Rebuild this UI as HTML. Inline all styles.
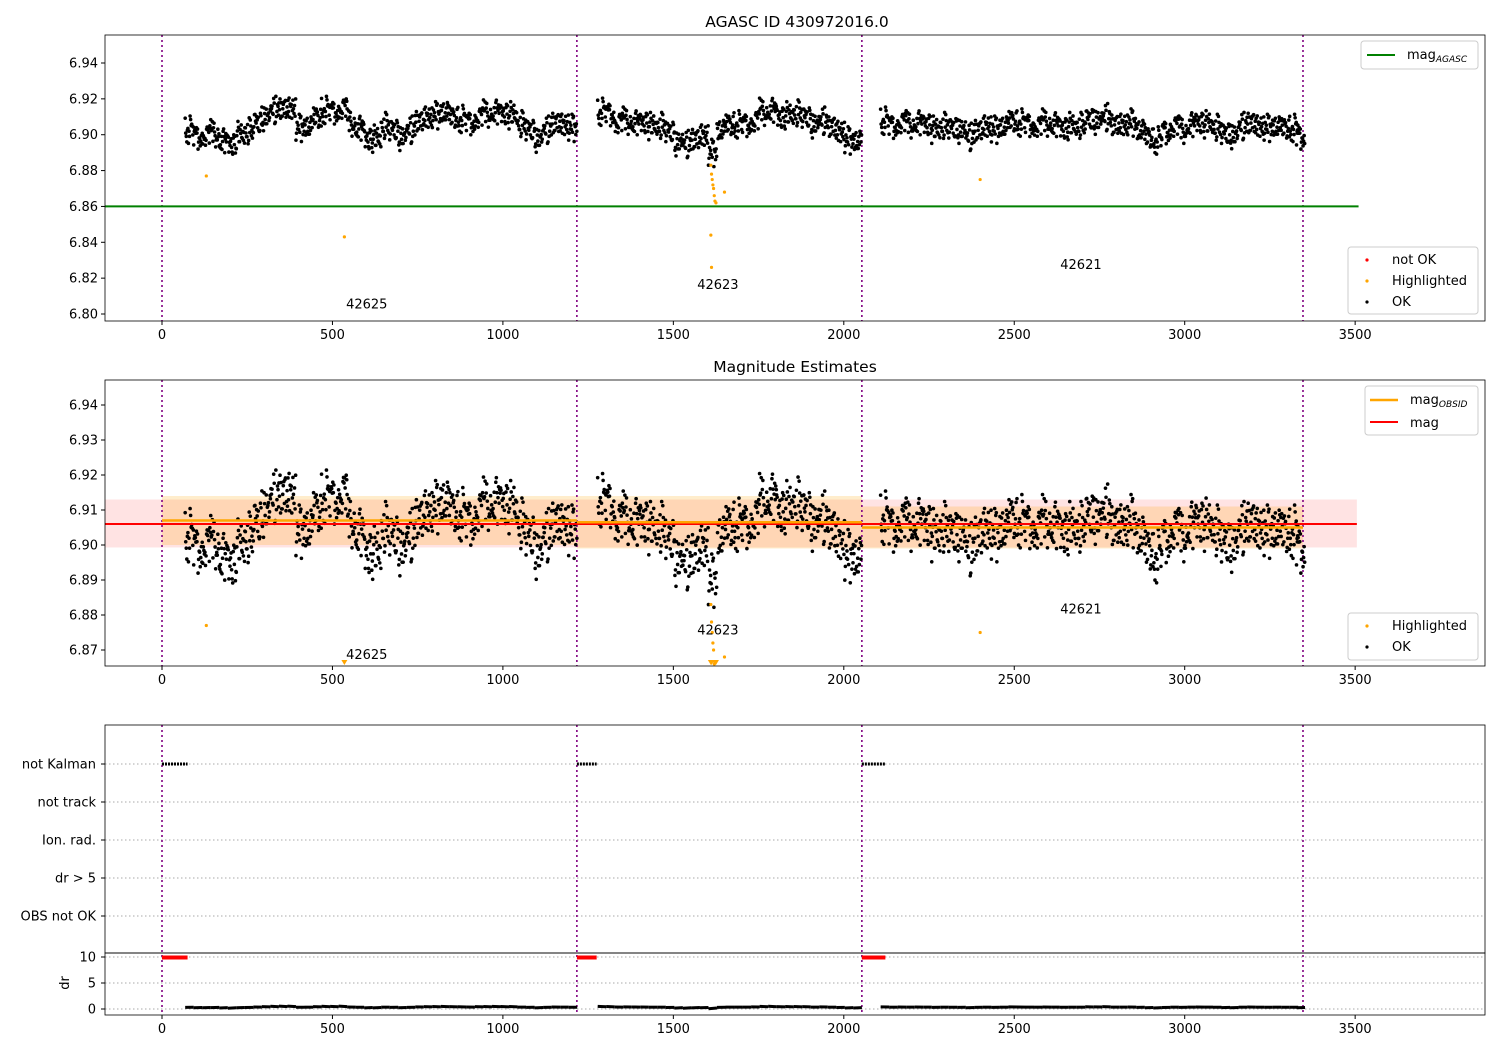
<!DOCTYPE html>
<html><head><meta charset="utf-8"><style>
body{margin:0;background:#fff}
svg{display:block;font-family:"DejaVu Sans","Liberation Sans",sans-serif}
</style></head><body>
<svg id="c" width="1500" height="1050" xmlns="http://www.w3.org/2000/svg"></svg>
<script>
// ---- data ----
const binTimes1=[80,105,130,155,180,205,230,255,280,305,330,355,380,405,430,455,480,505,530,555,580,605,630,655,680,705,730,755,780,805,830,855,880,905,930,955,980,1005,1030,1055,1080,1105,1130,1155,1180,1205];
const binMags1=[6.903,6.899,6.900,6.901,6.897,6.895,6.900,6.902,6.907,6.910,6.914,6.915,6.915,6.904,6.905,6.910,6.914,6.913,6.915,6.907,6.904,6.898,6.898,6.905,6.903,6.899,6.903,6.908,6.910,6.911,6.913,6.910,6.909,6.907,6.910,6.912,6.913,6.912,6.911,6.906,6.903,6.898,6.903,6.907,6.906,6.904];
const binTimes2=[1290,1315,1340,1365,1390,1415,1440,1465,1490,1515,1540,1565,1590,1615,1640,1665,1690,1715,1740,1765,1790,1815,1840,1865,1890,1915,1940,1965,1990,2015,2040];
const binMags2=[6.913,6.912,6.907,6.908,6.907,6.907,6.905,6.905,6.902,6.896,6.895,6.898,6.900,6.890,6.903,6.906,6.906,6.906,6.908,6.913,6.914,6.910,6.911,6.912,6.910,6.906,6.908,6.905,6.902,6.897,6.897];
const binTimes3=[2120,2145,2170,2195,2220,2245,2270,2295,2320,2345,2370,2395,2420,2445,2470,2495,2520,2545,2570,2595,2620,2645,2670,2695,2720,2745,2770,2795,2820,2845,2870,2895,2920,2945,2970,2995,3020,3045,3070,3095,3120,3145,3170,3195,3220,3245,3270,3295,3320,3340];
const binMags3=[6.908,6.905,6.907,6.906,6.907,6.906,6.903,6.905,6.904,6.903,6.899,6.903,6.905,6.903,6.905,6.908,6.907,6.906,6.905,6.907,6.906,6.904,6.905,6.905,6.909,6.908,6.910,6.906,6.906,6.907,6.903,6.899,6.897,6.902,6.905,6.903,6.906,6.907,6.906,6.904,6.901,6.900,6.905,6.907,6.905,6.904,6.905,6.904,6.904,6.899];
const magSpread=0.0065;
const hlTimes=[130,535,1610,1612,1614,1616,1618,1620,1622,1625,1610,1612,1650,2400];
const hlMags=[6.877,6.843,6.883,6.878,6.875,6.872,6.870,6.866,6.863,6.862,6.844,6.826,6.868,6.875];
const obsStarts=[0,1217,2053];
const obsEnds=[1217,2053,3347];
const obsMags=[6.907,6.9065,6.905];
const obsLo=[6.900,6.899,6.899];
const obsHi=[6.914,6.914,6.911];
const obsIds=["42625","42623","42621"];
const labelMagsTop=[6.803,6.814,6.825];
const labelMagsMid=[6.8675,6.8745,6.8805];
const labelTimes=[540,1570,2635];
const magAgasc=6.86, magMean=6.906, magLo=6.8993, magHi=6.9130;
const kalStart=[0,1217,2053], kalEnd=[75,1275,2122];
const drTypical=0.35, drBad=9.9;
const topTicks=[6.80,6.82,6.84,6.86,6.88,6.90,6.92,6.94];
const midTicks=[6.87,6.88,6.89,6.90,6.91,6.92,6.93,6.94];
const xTicks=[0,500,1000,1500,2000,2500,3000,3500];
const flagRows=["not Kalman","not track","Ion. rad.","dr > 5","OBS not OK"];
const drTicks=[0,5,10];

// ---- helpers ----
const S=document.getElementById('c'),NS='http://www.w3.org/2000/svg';
function mk(t,a,p){const e=document.createElementNS(NS,t);for(const k in a)e.setAttribute(k,a[k]);(p||S).appendChild(e);return e;}
const X=t=>162+(t)*0.3409;
const L=105,R=1485;
const Ytop=m=>63+(6.94-m)*1792.9;
const Ymid=m=>405+(6.94-m)*3500;
const Yflag=i=>764+i*38;
const Ydr=d=>1009-d*5.2;
const pat=[-0.9,0.4,-0.2,0.8,-0.6,0.1,0.95,-0.4,0.55,-1,0.25,-0.75,0.7,-0.1,0.35,-0.5];
const xpat=[3,11,7,0,14,5,9,1,12,6,15,2,10,4,13,8];
const segs=[[binTimes1,binMags1],[binTimes2,binMags2],[binTimes3,binMags3]];

function frame(top,bot,name){
  mk('rect',{x:L,y:top,width:R-L,height:bot-top,fill:'none',stroke:'#000','stroke-width':0.8,});
}
function xAxis(bot,name){
  const g=mk('g',{});
  xTicks.forEach(t=>{mk('line',{x1:X(t),x2:X(t),y1:bot,y2:bot+4,stroke:'#000'},g);
    const tx=mk('text',{x:X(t),y:bot+18,'font-size':13,'text-anchor':'middle'},g);tx.textContent=t;});
}
function yAxis(ticks,Y,name,fmt){
  const g=mk('g',{});
  ticks.forEach(v=>{mk('line',{x1:L-4,x2:L,y1:Y(v),y2:Y(v),stroke:'#000'},g);
    const tx=mk('text',{x:L-7,y:Y(v)+4.5,'font-size':13,'text-anchor':'end'},g);tx.textContent=fmt(v);});
}
function vlines(top,bot){
  [0,1217,2053,3347].forEach(t=>{const l=mk('line',{x1:X(t),x2:X(t),y1:top,y2:bot,stroke:'#800080','stroke-width':1.6,'stroke-dasharray':'2,3'});
  });
}
function scatter(Y,top,bot,g){
  segs.forEach(([ts,ms])=>{ts.forEach((t,i)=>{for(let k=0;k<16;k++){
    const y=Y(ms[i]+pat[(k+i)%16]*magSpread*(k%3==0?1.2:0.8));if(y<top||y>bot)continue;
    mk('circle',{cx:X(t-12+xpat[k]*1.6),cy:y,r:1.8,fill:'#000'},g);}});});
}
function highlights(Y,top,bot,g){
  hlTimes.forEach((t,i)=>{const y=Y(hlMags[i]);
    if(y>bot){mk('path',{d:`M${X(t)-3},${bot-5} h6 l-3,5z`,fill:'orange'},g);}
    else mk('circle',{cx:X(t),cy:y,r:1.6,fill:'orange'},g);});
}
function label(x,y,s,name,size){const t=mk('text',{x:x,y:y,'font-size':size||13,});t.textContent=s;return t;}

// ---- top panel ----
label(797,27,'AGASC ID 430972016.0','top-title',15.5).setAttribute('text-anchor','middle');
vlines(35,321);
mk('line',{x1:L,x2:X(3510),y1:Ytop(magAgasc),y2:Ytop(magAgasc),stroke:'green','stroke-width':2,});
const g1=mk('g',{});scatter(Ytop,36,320,g1);
const h1=mk('g',{});highlights(Ytop,36,320,h1);
obsIds.forEach((s,i)=>label(X(labelTimes[i]),Ytop(labelMagsTop[i]),s,'obsid-label-top'));
frame(35,321,'top-plot-area');xAxis(321,'top-x-axis');yAxis(topTicks,Ytop,'top-y-axis',v=>v.toFixed(2));
// legends
let lg=mk('g',{});
mk('rect',{x:1361,y:41,width:117,height:28,rx:3,fill:'#fff',stroke:'#ccc'},lg);
mk('line',{x1:1367,x2:1395,y1:55,y2:55,stroke:'green','stroke-width':2},lg);
let t=mk('text',{x:1407,y:59,'font-size':13},lg);t.innerHTML='mag<tspan font-size="9" font-style="italic" dy="3">AGASC</tspan>';
lg=mk('g',{});
mk('rect',{x:1348,y:247,width:130,height:67,rx:3,fill:'#fff',stroke:'#ccc'},lg);
[['not OK','red'],['Highlighted','orange'],['OK','#000']].forEach((e,i)=>{mk('circle',{cx:1367,cy:260+i*21,r:1.6,fill:e[1]},lg);
  const q=mk('text',{x:1392,y:264+i*21,'font-size':13},lg);q.textContent=e[0];});

// ---- middle panel ----
label(795,372,'Magnitude Estimates','mid-title',15.5).setAttribute('text-anchor','middle');
mk('rect',{x:L,y:Ymid(magHi),width:X(3505)-L,height:Ymid(magLo)-Ymid(magHi),fill:'rgba(255,0,0,0.11)',});
obsStarts.forEach((s,i)=>{mk('rect',{x:X(s),y:Ymid(obsHi[i]),width:X(obsEnds[i])-X(s),height:Ymid(obsLo[i])-Ymid(obsHi[i]),fill:'rgba(255,165,0,0.2)',});});
vlines(380,666);
const g2=mk('g',{});scatter(Ymid,381,665,g2);
mk('line',{x1:L,x2:X(3505),y1:Ymid(magMean),y2:Ymid(magMean),stroke:'red','stroke-width':2,});
obsStarts.forEach((s,i)=>{mk('line',{x1:X(s),x2:X(obsEnds[i]),y1:Ymid(obsMags[i]),y2:Ymid(obsMags[i]),stroke:'orange','stroke-width':2.5,});});
const h2=mk('g',{});highlights(Ymid,381,665,h2);
obsIds.forEach((s,i)=>label(X(labelTimes[i]),Ymid(labelMagsMid[i]),s,'obsid-label-mid'));
frame(380,666,'mid-plot-area');xAxis(666,'mid-x-axis');yAxis(midTicks,Ymid,'mid-y-axis',v=>v.toFixed(2));
lg=mk('g',{});
mk('rect',{x:1365,y:386,width:113,height:49,rx:3,fill:'#fff',stroke:'#ccc'},lg);
mk('line',{x1:1370,x2:1398,y1:400,y2:400,stroke:'orange','stroke-width':2.5},lg);
t=mk('text',{x:1410,y:404,'font-size':13},lg);t.innerHTML='mag<tspan font-size="9" font-style="italic" dy="3">OBSID</tspan>';
mk('line',{x1:1370,x2:1398,y1:422,y2:422,stroke:'red','stroke-width':2},lg);
t=mk('text',{x:1410,y:427,'font-size':13},lg);t.textContent='mag';
lg=mk('g',{});
mk('rect',{x:1348,y:613,width:130,height:47,rx:3,fill:'#fff',stroke:'#ccc'},lg);
[['Highlighted','orange'],['OK','#000']].forEach((e,i)=>{mk('circle',{cx:1367,cy:626+i*21,r:1.6,fill:e[1]},lg);
  const q=mk('text',{x:1392,y:630+i*21,'font-size':13},lg);q.textContent=e[0];});

// ---- flags panel ----
const fg=mk('g',{});
flagRows.forEach((f,i)=>{mk('line',{x1:L,x2:R,y1:Yflag(i),y2:Yflag(i),stroke:'#aaa','stroke-dasharray':'1.5,2.5'},fg);
  mk('line',{x1:L-4,x2:L,y1:Yflag(i),y2:Yflag(i),stroke:'#000'},fg);
  const q=mk('text',{x:L-9,y:Yflag(i)+4.5,'font-size':13,'text-anchor':'end'},fg);q.textContent=f;});
drTicks.forEach(d=>{mk('line',{x1:L,x2:R,y1:Ydr(d),y2:Ydr(d),stroke:'#aaa','stroke-dasharray':'1.5,2.5'},fg);
  mk('line',{x1:L-4,x2:L,y1:Ydr(d),y2:Ydr(d),stroke:'#000'},fg);
  const q=mk('text',{x:L-9,y:Ydr(d)+4.5,'font-size':13,'text-anchor':'end'},fg);q.textContent=d;});
const yl=mk('text',{x:0,y:0,'font-size':13,'text-anchor':'middle',transform:'translate(69,983) rotate(-90)',});yl.textContent='dr';
vlines(725,1015);
const kg=mk('g',{});
kalStart.forEach((s,i)=>{mk('line',{x1:X(s),x2:X(kalEnd[i]),y1:Yflag(0),y2:Yflag(0),stroke:'#000','stroke-width':3,'stroke-dasharray':'2,1'},kg);
  mk('line',{x1:X(s),x2:X(kalEnd[i]),y1:Ydr(drBad),y2:Ydr(drBad),stroke:'red','stroke-width':4},kg);});
const dg=mk('g',{});
segs.forEach(([ts,ms])=>{ts.forEach((tt,i)=>{mk('line',{x1:X(tt-12),x2:X(tt+13),y1:Ydr(drTypical+(ms[i]-6.905)*20),y2:Ydr(drTypical+(ms[i]-6.905)*10),stroke:'#000','stroke-width':3},dg);});});
frame(725,953,'flags-plot-area');frame(953,1015,'dr-plot-area');xAxis(1015,'dr-x-axis');
</script>
</body></html>
